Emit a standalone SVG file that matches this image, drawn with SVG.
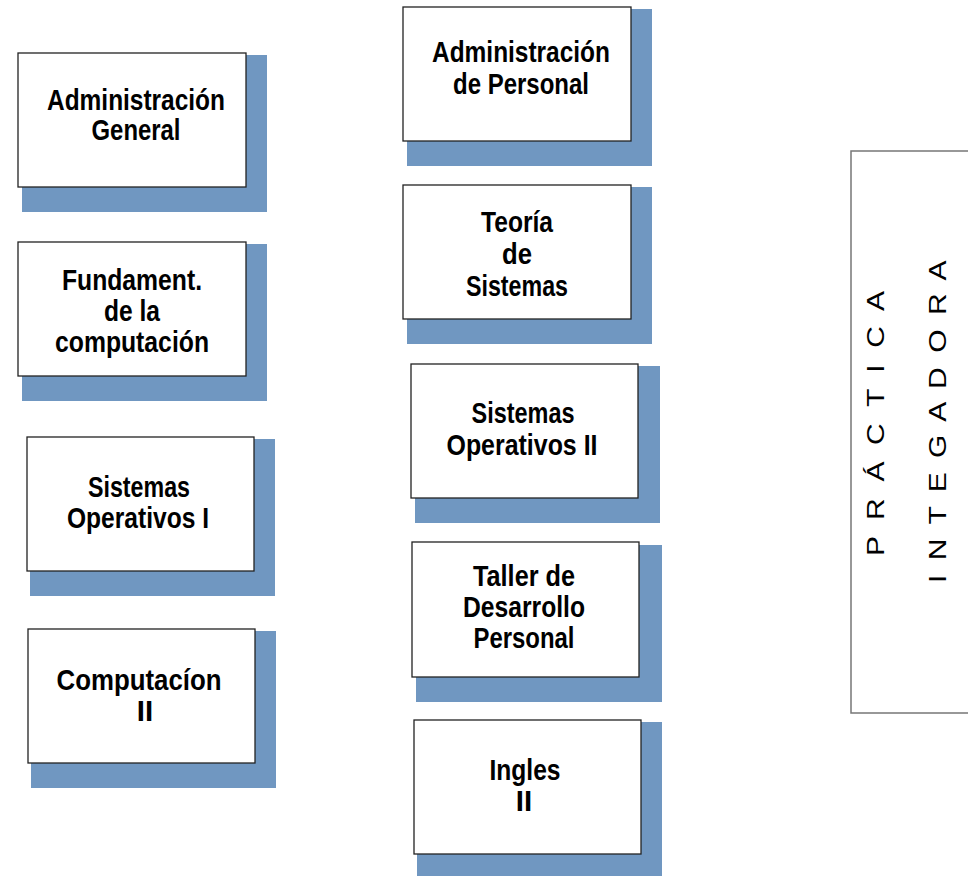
<svg xmlns="http://www.w3.org/2000/svg" width="968" height="876" viewBox="0 0 968 876">
<style>
.sh{fill:#7097c1}
.bx{fill:#fff;stroke:#222;stroke-width:1.3}
.t{font-family:"Liberation Sans",Arial,sans-serif;font-weight:bold;font-size:29.5px;fill:#000;text-anchor:middle}
.v{font-family:"Liberation Sans",Arial,sans-serif;font-weight:normal;font-size:24px;fill:#000}
</style>
<rect width="968" height="876" fill="#fff"/>
<g id="adm-general">
<rect class="sh" x="22" y="55" width="245" height="157"/>
<rect class="bx" x="18" y="53" width="228" height="134"/>
<text class="t" x="136" y="110" textLength="178" lengthAdjust="spacingAndGlyphs">Administración</text>
<text class="t" x="136" y="140" textLength="89" lengthAdjust="spacingAndGlyphs">General</text>
</g>
<g id="fundament">
<rect class="sh" x="22" y="244" width="245" height="157"/>
<rect class="bx" x="18" y="242" width="228" height="134"/>
<text class="t" x="132" y="290" textLength="140" lengthAdjust="spacingAndGlyphs">Fundament.</text>
<text class="t" x="132" y="321" textLength="56" lengthAdjust="spacingAndGlyphs">de la</text>
<text class="t" x="132" y="352" textLength="154" lengthAdjust="spacingAndGlyphs">computación</text>
</g>
<g id="so1">
<rect class="sh" x="30" y="439" width="245" height="157"/>
<rect class="bx" x="27" y="437" width="227" height="134"/>
<text class="t" x="139" y="497" textLength="102" lengthAdjust="spacingAndGlyphs">Sistemas</text>
<text class="t" x="138" y="528" textLength="142" lengthAdjust="spacingAndGlyphs">Operativos I</text>
</g>
<g id="comp2">
<rect class="sh" x="31" y="631" width="245" height="157"/>
<rect class="bx" x="28" y="629" width="227" height="134"/>
<text class="t" x="139" y="690" textLength="165" lengthAdjust="spacingAndGlyphs">Computacíon</text>
<text class="t" x="145" y="721">II</text>
</g>
<g id="adm-personal">
<rect class="sh" x="407" y="9" width="245" height="157"/>
<rect class="bx" x="403" y="7" width="228" height="134"/>
<text class="t" x="521" y="62" textLength="178" lengthAdjust="spacingAndGlyphs">Administración</text>
<text class="t" x="521" y="94" textLength="136" lengthAdjust="spacingAndGlyphs">de Personal</text>
</g>
<g id="teoria">
<rect class="sh" x="407" y="187" width="245" height="157"/>
<rect class="bx" x="403" y="185" width="228" height="134"/>
<text class="t" x="517" y="232" textLength="72" lengthAdjust="spacingAndGlyphs">Teoría</text>
<text class="t" x="517" y="264" textLength="30" lengthAdjust="spacingAndGlyphs">de</text>
<text class="t" x="517" y="296" textLength="102" lengthAdjust="spacingAndGlyphs">Sistemas</text>
</g>
<g id="so2">
<rect class="sh" x="415" y="366" width="245" height="157"/>
<rect class="bx" x="411" y="364" width="227" height="134"/>
<text class="t" x="523" y="423" textLength="103" lengthAdjust="spacingAndGlyphs">Sistemas</text>
<text class="t" x="522" y="455" textLength="151" lengthAdjust="spacingAndGlyphs">Operativos II</text>
</g>
<g id="taller">
<rect class="sh" x="416" y="545" width="246" height="157"/>
<rect class="bx" x="412" y="542" width="227" height="135"/>
<text class="t" x="524" y="586" textLength="102" lengthAdjust="spacingAndGlyphs">Taller de</text>
<text class="t" x="524" y="617" textLength="122" lengthAdjust="spacingAndGlyphs">Desarrollo</text>
<text class="t" x="524" y="648" textLength="101" lengthAdjust="spacingAndGlyphs">Personal</text>
</g>
<g id="ingles">
<rect class="sh" x="417" y="722" width="245" height="160"/>
<rect class="bx" x="414" y="720" width="227" height="134"/>
<text class="t" x="525" y="780" textLength="71" lengthAdjust="spacingAndGlyphs">Ingles</text>
<text class="t" x="524" y="811">II</text>
</g>
<g id="practica">
<path d="M970,151 H851 V713 H970" fill="#fff" stroke="#777" stroke-width="1.5"/>
<text class="v" transform="translate(884,556) rotate(-90) scale(1.25,1)" textLength="212" lengthAdjust="spacing">P R Á C T I C A</text>
<text class="v" transform="translate(946,583) rotate(-90) scale(1.25,1)" textLength="258" lengthAdjust="spacing">I N T E G A D O R A</text>
</g>
<g id="connectors"></g>
</svg>
